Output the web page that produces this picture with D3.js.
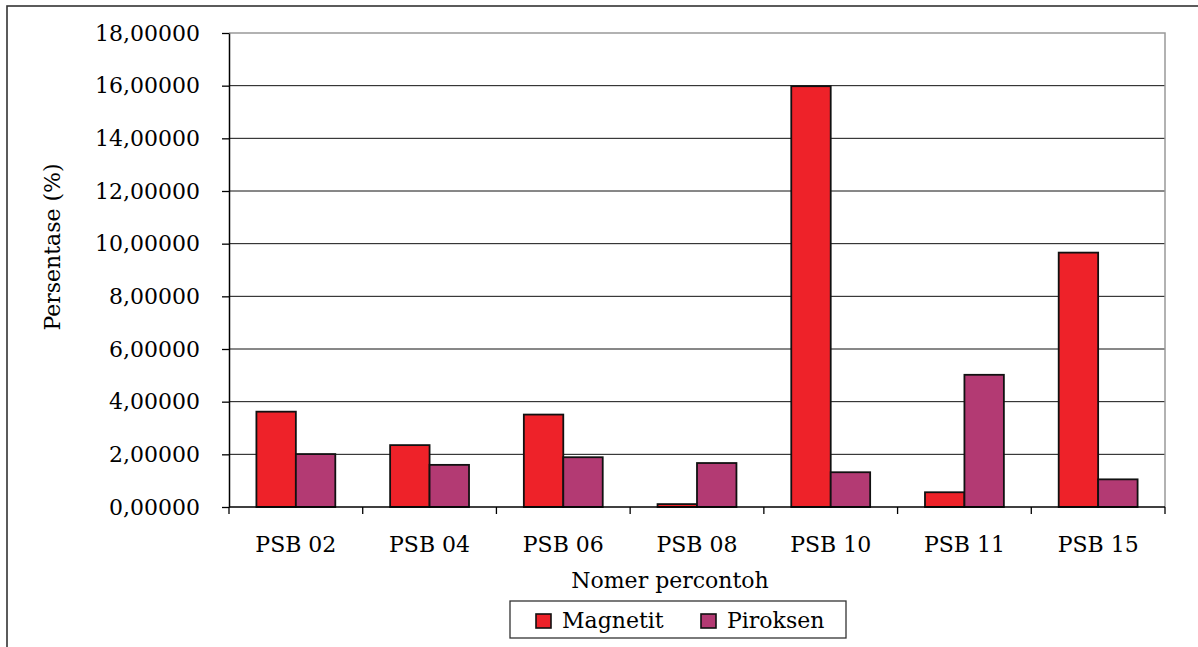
<!DOCTYPE html>
<html>
<head>
<meta charset="utf-8">
<script src="https://cdn.jsdelivr.net/npm/d3@7"></script>
<style>
  body { margin: 0; background: #fff; }
</style>
</head>
<body>
<svg id="chart"></svg>
<script>
const categories = ["PSB 02", "PSB 04", "PSB 06", "PSB 08", "PSB 10", "PSB 11", "PSB 15"];
const seriesNames = ["Magnetit", "Piroksen"];
const magnetit = [3.62, 2.35, 3.51, 0.11, 15.98, 0.56, 9.66];
const piroksen = [2.01, 1.60, 1.89, 1.67, 1.32, 5.02, 1.05];
const yTicks = [0, 2, 4, 6, 8, 10, 12, 14, 16, 18];
const colors = ["#ee2229", "#b33a73"];

const W = 1198, H = 647;
const FONT = "DejaVu Serif";
const FS = 22;
const margin = { top: 33, right: 33, bottom: 140, left: 229 },
    width = W - margin.left - margin.right,
    height = H - margin.top - margin.bottom;

const root = d3.select("#chart").attr("width", W).attr("height", H);

// outer frame (cut off at right and bottom like the source)
root.append("rect")
    .attr("x", 7).attr("y", 6)
    .attr("width", 1400).attr("height", 900)
    .attr("fill", "none").attr("stroke", "#333").attr("stroke-width", 1.6);

const svg = root.append("g")
    .attr("transform", `translate(${margin.left}, ${margin.top})`);

const data = categories.map((c, i) => ({ cat: c, values: [magnetit[i], piroksen[i]] }));

const y = d3.scaleLinear().domain([0, 18]).range([height, 0]);

const x0 = d3.scaleBand().domain(categories).range([0, width])
    .paddingInner(0.41).paddingOuter(0.205);
const x1 = d3.scaleBand().domain(seriesNames).range([0, x0.bandwidth()]);

// gridlines
svg.append("g")
    .selectAll("line")
    .data(yTicks.filter(d => d > 0 && d < 18))
    .join("line")
    .attr("x1", 0).attr("x2", width)
    .attr("y1", d => y(d)).attr("y2", d => y(d))
    .style("stroke", "#111").style("stroke-width", 1);

// plot area top/right border
svg.append("path")
    .attr("d", `M0,${y(18)}H${width}V${height}`)
    .attr("fill", "none").style("stroke", "#999").style("stroke-width", 1.5);

// bars
const groups = svg.append("g")
    .selectAll("g")
    .data(data)
    .join("g")
    .attr("transform", d => `translate(${x0(d.cat)}, 0)`);

groups.selectAll("rect")
    .data(d => d.values.map((v, i) => ({ name: seriesNames[i], v, i })))
    .join("rect")
    .attr("x", d => x1(d.name))
    .attr("y", d => y(d.v))
    .attr("width", x1.bandwidth())
    .attr("height", d => height - y(d.v))
    .attr("fill", d => colors[d.i])
    .style("stroke", "#111")
    .style("stroke-width", 1.8);

// y axis
const yAxis = svg.append("g")
    .call(d3.axisLeft(y).tickValues(yTicks).tickSize(7).tickSizeOuter(0)
        .tickFormat(d => d3.format(".5f")(d).replace(".", ",")));
yAxis.attr("font-family", FONT);
yAxis.select(".domain").style("stroke", "#000").style("stroke-width", 1.5);
yAxis.selectAll(".tick line").style("stroke", "#000").style("stroke-width", 1.3);
yAxis.selectAll(".tick text")
    .attr("x", -29)
    .attr("font-family", FONT)
    .attr("font-size", FS).attr("fill", "#000");

// x axis line + boundary ticks
svg.append("line")
    .attr("x1", 0).attr("x2", width).attr("y1", height).attr("y2", height)
    .style("stroke", "#000").style("stroke-width", 1.5);

const step = x0.step();
svg.append("g")
    .selectAll("line")
    .data(d3.range(categories.length + 1))
    .join("line")
    .attr("x1", i => i * step).attr("x2", i => i * step)
    .attr("y1", height).attr("y2", height + 7)
    .style("stroke", "#000").style("stroke-width", 1.3);

// x labels
svg.append("g")
    .selectAll("text")
    .data(categories)
    .join("text")
    .attr("x", d => x0(d) + x0.bandwidth() / 2)
    .attr("y", height + 45)
    .attr("text-anchor", "middle")
    .attr("font-family", FONT)
    .attr("font-size", FS)
    .text(d => d);

// axis titles
svg.append("text")
    .attr("x", 670 - margin.left)
    .attr("y", 588 - margin.top)
    .attr("text-anchor", "middle")
    .attr("font-family", FONT)
    .attr("font-size", FS)
    .text("Nomer percontoh");

svg.append("text")
    .attr("transform", `translate(${60 - margin.left}, ${247 - margin.top}) rotate(-90)`)
    .attr("text-anchor", "middle")
    .attr("font-family", FONT)
    .attr("font-size", FS)
    .text("Persentase (%)");

// legend
const legend = root.append("g").attr("transform", "translate(510, 601)");
legend.append("rect")
    .attr("width", 336).attr("height", 37)
    .attr("fill", "#fff").style("stroke", "#333").style("stroke-width", 1.3);

const items = legend.selectAll("g.item")
    .data(seriesNames)
    .join("g")
    .attr("class", "item")
    .attr("transform", (d, i) => `translate(${[26, 191][i]}, 0)`);

items.append("rect")
    .attr("x", 0).attr("y", 13)
    .attr("width", 15).attr("height", 14)
    .attr("fill", (d, i) => colors[i])
    .style("stroke", "#111").style("stroke-width", 1.6);

items.append("text")
    .attr("x", 26).attr("y", 27)
    .attr("font-family", FONT)
    .attr("font-size", FS)
    .text(d => d);
</script>
</body>
</html>
